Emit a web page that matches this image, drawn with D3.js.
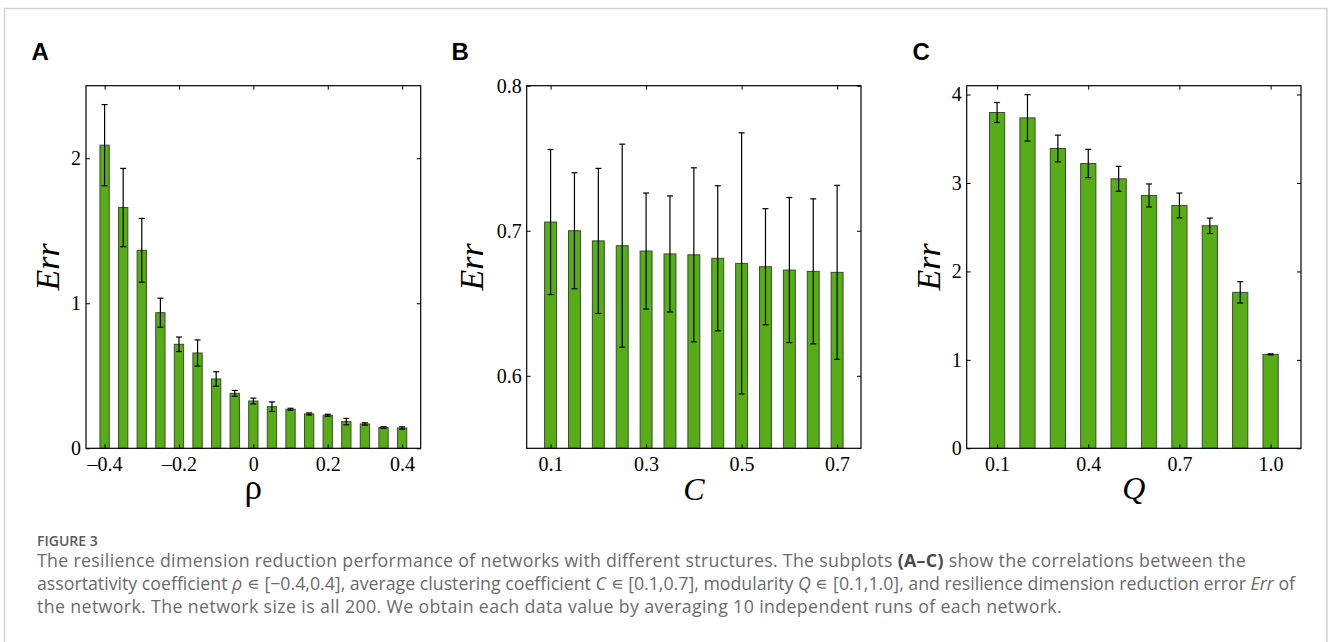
<!DOCTYPE html>
<html lang="en">
<head>
<meta charset="UTF-8">
<title>Figure 3: resilience dimension reduction error</title>
<script src="https://d3js.org/d3.v7.min.js"></script>
<style>
  body { margin: 0; background: #fff; }
  svg { display: block; }
  .tick text { font-family: "Liberation Serif", "Times New Roman", serif; font-size: 20px; fill: #000; }
  .tick line { stroke: #000; stroke-width: 1; }
</style>
</head>
<body>
<svg id="fig" width="1328" height="642"></svg>
<script>
// Panel A: assortativity coefficient
const rhoValues = [-0.4, -0.35, -0.3, -0.25, -0.2, -0.15, -0.1, -0.05, 0, 0.05, 0.1, 0.15, 0.2, 0.25, 0.3, 0.35, 0.4];
const errRho = [2.09, 1.66, 1.365, 0.935, 0.717, 0.657, 0.478, 0.379, 0.326, 0.287, 0.269, 0.237, 0.228, 0.184, 0.168, 0.143, 0.140];
const sdRho = [0.28, 0.27, 0.22, 0.10, 0.05, 0.09, 0.05, 0.02, 0.02, 0.033, 0.007, 0.007, 0.007, 0.022, 0.008, 0.006, 0.008];
const rhoTicks = [-0.4, -0.2, 0, 0.2, 0.4];
const rhoTickLabels = ['\u20130.4', '\u20130.2', '0', '0.2', '0.4'];
const errRhoTicks = [0, 1, 2];

// Panel B: average clustering coefficient
const clustValues = [0.1, 0.15, 0.2, 0.25, 0.3, 0.35, 0.4, 0.45, 0.5, 0.55, 0.6, 0.65, 0.7];
const errClust = [0.706, 0.700, 0.693, 0.6897, 0.686, 0.684, 0.6834, 0.681, 0.6775, 0.6752, 0.6729, 0.672, 0.6713];
const sdClust = [0.050, 0.040, 0.050, 0.070, 0.040, 0.040, 0.060, 0.050, 0.090, 0.040, 0.050, 0.050, 0.060];
const clustTicks = [0.1, 0.3, 0.5, 0.7];
const clustTickLabels = ['0.1', '0.3', '0.5', '0.7'];
const errClustTicks = [0.6, 0.7, 0.8];

// Panel C: modularity
const modValues = [0.1, 0.2, 0.3, 0.4, 0.5, 0.6, 0.7, 0.8, 0.9, 1.0];
const errMod = [3.797, 3.736, 3.39, 3.22, 3.047, 2.859, 2.746, 2.516, 1.763, 1.062];
const sdMod = [0.113, 0.262, 0.151, 0.160, 0.141, 0.130, 0.140, 0.087, 0.121, 0.006];
const modTicks = [0.1, 0.4, 0.7, 1.0];
const modTickLabels = ['0.1', '0.4', '0.7', '1.0'];
const errModTicks = [0, 1, 2, 3, 4];

const svg = d3.select('#fig');
const plotTop = 85.7, plotBottom = 448.3;

// light frame round the whole figure
svg.append('rect')
  .attr('x', 4.5).attr('y', 8.5).attr('width', 1322.5).attr('height', 700)
  .attr('fill', 'none').attr('stroke', '#d2d2d2').attr('stroke-width', 1.5);

function drawPanel(p) {
  const x = d3.scaleLinear().domain(p.xDomain).range([p.left, p.right]);
  const y = d3.scaleLinear().domain(p.yDomain).range([plotBottom, plotTop]);
  const g = svg.append('g');
  const half = (x(p.step) - x(0)) / 4;

  g.selectAll('rect.bar')
    .data(p.xs)
    .enter()
    .append('rect')
    .attr('class', 'bar')
    .attr('x', d => x(d) - half)
    .attr('width', half * 2)
    .attr('y', (d, i) => y(p.means[i]))
    .attr('height', (d, i) => y(p.yDomain[0]) - y(p.means[i]))
    .attr('fill', '#56ad16')
    .attr('stroke', '#3f4a36')
    .attr('stroke-width', 1);

  // error bars
  const eb = g.selectAll('g.err').data(p.xs).enter().append('g').attr('class', 'err')
    .attr('stroke', '#000').attr('stroke-width', 1.2);
  eb.append('line')
    .attr('x1', d => x(d)).attr('x2', d => x(d))
    .attr('y1', (d, i) => y(p.means[i] - p.sds[i]))
    .attr('y2', (d, i) => y(p.means[i] + p.sds[i]));
  [1, -1].forEach(sign => {
    eb.append('line')
      .attr('x1', d => x(d) - 3).attr('x2', d => x(d) + 3)
      .attr('y1', (d, i) => y(p.means[i] + sign * p.sds[i]))
      .attr('y2', (d, i) => y(p.means[i] + sign * p.sds[i]));
  });

  // axes, ticks pointing inward on all four sides
  const bottom = g.append('g').attr('transform', `translate(0,${plotBottom})`)
    .call(d3.axisBottom(x).tickValues(p.xTicks).tickFormat((d, i) => p.xLabels[i])
      .tickSizeInner(-4).tickSizeOuter(0).tickPadding(9));
  const top = g.append('g').attr('transform', `translate(0,${plotTop})`)
    .call(d3.axisTop(x).tickValues(p.xTicks).tickFormat('').tickSizeInner(-4).tickSizeOuter(0));
  const left = g.append('g').attr('transform', `translate(${p.left},0)`)
    .call(d3.axisLeft(y).tickValues(p.yTicks).tickFormat((d, i) => p.yLabels[i])
      .tickSizeInner(-4).tickSizeOuter(0).tickPadding(5));
  const right = g.append('g').attr('transform', `translate(${p.right},0)`)
    .call(d3.axisRight(y).tickValues(p.yTicks).tickFormat('').tickSizeInner(-4).tickSizeOuter(0));
  [bottom, top, left, right].forEach(a => a.select('.domain').remove());

  g.append('rect')
    .attr('x', p.left).attr('y', plotTop)
    .attr('width', p.right - p.left).attr('height', plotBottom - plotTop)
    .attr('fill', 'none').attr('stroke', '#000').attr('stroke-width', 1.2);

  // axis titles
  g.append('text')
    .attr('x', (p.left + p.right) / 2).attr('y', p.xTitleY)
    .attr('text-anchor', 'middle')
    .style('font-family', '"Liberation Serif", "Times New Roman", serif')
    .style('font-size', p.xTitleSize + 'px')
    .style('font-style', p.xTitleItalic ? 'italic' : 'normal')
    .text(p.xTitle);
  g.append('text')
    .attr('transform', `translate(${p.errX},${(plotTop + plotBottom) / 2}) rotate(-90)`)
    .attr('text-anchor', 'middle')
    .style('font-family', '"Liberation Serif", "Times New Roman", serif')
    .style('font-size', '34px')
    .style('font-style', 'italic')
    .text('Err');

  svg.append('text')
    .attr('x', p.letterX).attr('y', 59.5)
    .style('font-family', '"Liberation Sans", Arial, sans-serif')
    .style('font-weight', 'bold')
    .style('font-size', '24px')
    .text(p.letter);
}

drawPanel({
  letter: 'A', letterX: 31.5, left: 86, right: 420.7, errX: 59,
  xDomain: [-0.45, 0.45], yDomain: [0, 2.5], step: 0.05,
  xs: rhoValues, means: errRho, sds: sdRho,
  xTicks: rhoTicks, xLabels: rhoTickLabels,
  yTicks: errRhoTicks, yLabels: errRhoTicks.map(String),
  xTitle: '\u03c1', xTitleItalic: false, xTitleSize: 35, xTitleY: 499
});
drawPanel({
  letter: 'B', letterX: 451.5, left: 526.7, right: 861, errX: 483,
  xDomain: [0.05, 0.75], yDomain: [0.55, 0.8], step: 0.05,
  xs: clustValues, means: errClust, sds: sdClust,
  xTicks: clustTicks, xLabels: clustTickLabels,
  yTicks: errClustTicks, yLabels: errClustTicks.map(d => d.toFixed(1)),
  xTitle: 'C', xTitleItalic: true, xTitleSize: 32, xTitleY: 500
});
drawPanel({
  letter: 'C', letterX: 912.5, left: 966.7, right: 1301, errX: 940,
  xDomain: [0, 1.1], yDomain: [0, 4.1], step: 0.1,
  xs: modValues, means: errMod, sds: sdMod,
  xTicks: modTicks, xLabels: modTickLabels,
  yTicks: errModTicks, yLabels: errModTicks.map(String),
  xTitle: 'Q', xTitleItalic: true, xTitleSize: 32, xTitleY: 499
});

// caption
const captionFont = '"Open Sans", "Noto Sans", sans-serif';
svg.append('text')
  .attr('x', 37).attr('y', 546)
  .style('font-family', captionFont).style('font-size', '14px').style('font-weight', 600)
  .attr('fill', '#5b5b5b')
  .text('FIGURE 3');

const captionLines = [
  [['The resilience dimension reduction performance of networks with different structures. The subplots ', ''], ['(A\u2013C)', 'b'], [' show the correlations between the', '']],
  [['assortativity coefficient ', ''], ['\u03c1', 'i'], [' \u220a [\u22120.4,0.4], average clustering coefficient ', ''], ['C', 'i'], [' \u220a [0.1,0.7], modularity ', ''], ['Q', 'i'], [' \u220a [0.1,1.0], and resilience dimension reduction error ', ''], ['Err', 'i'], [' of', '']],
  [['the network. The network size is all 200. We obtain each data value by averaging 10 independent runs of each network.', '']]
];
const captionY = [567, 590, 613];
const captionWidths = [1209, 1258, 1025];
const lineNodes = captionLines.map((segs, li) => {
  const t = svg.append('text')
    .attr('x', 37).attr('y', captionY[li])
    .style('font-family', captionFont).style('font-size', '16px')
    .attr('fill', '#6b6b6b');
  segs.forEach(([s, f]) => {
    t.append('tspan').text(s)
      .style('font-style', f === 'i' ? 'italic' : 'normal')
      .style('font-weight', f === 'b' ? 'bold' : 'normal')
      .attr('fill', f === 'b' ? '#4a4a4a' : null);
  });
  return t;
});
// one font size from the second line, then a little letter spacing per line
const w = lineNodes[1].node().getComputedTextLength();
const fs = 16 * captionWidths[1] / w;
lineNodes.forEach((t, li) => {
  t.style('font-size', fs.toFixed(2) + 'px');
  const len = t.node().getComputedTextLength();
  const n = t.text().length;
  t.style('letter-spacing', ((captionWidths[li] - len) / n).toFixed(3) + 'px');
});
</script>
</body>
</html>
